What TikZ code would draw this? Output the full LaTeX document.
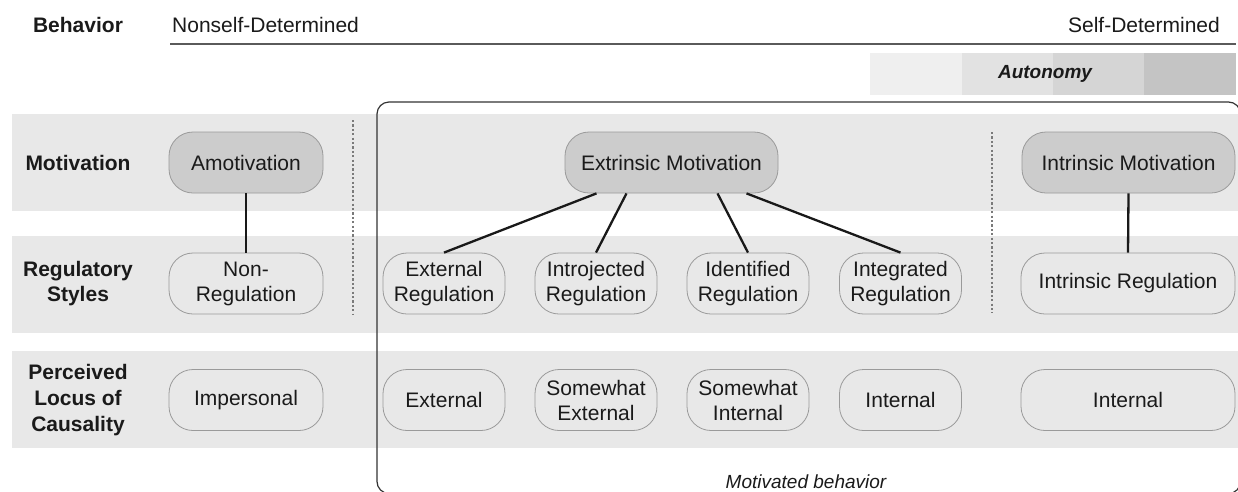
\documentclass[tikz,border=0pt]{standalone}
\usepackage{fontspec}
\setmainfont{Liberation Sans}
\usetikzlibrary{calc}
\definecolor{txt}{HTML}{1A1A1A}
\definecolor{bandgray}{HTML}{E8E8E8}
\definecolor{motfill}{HTML}{CCCCCC}
\definecolor{boxborder}{HTML}{9A9A9A}
\definecolor{auto1}{HTML}{EFEFEF}
\definecolor{auto2}{HTML}{E2E2E2}
\definecolor{auto3}{HTML}{D5D5D5}
\definecolor{auto4}{HTML}{C4C4C4}
\definecolor{frame}{HTML}{333333}
\definecolor{rule}{HTML}{5A5A5A}
\definecolor{sepgray}{HTML}{7A7A7A}
\begin{document}
\begin{tikzpicture}[x=1pt,y=-1pt,
  every node/.style={font=\fontsize{21}{25}\selectfont, text=txt, inner sep=0pt},
  band/.style={fill=bandgray, draw=none},
  motbox/.style={draw=boxborder, line width=0.8pt, fill=motfill, rounded corners=24pt,
    minimum height=61pt, align=center},
  regbox/.style={draw=boxborder, line width=0.8pt, fill=bandgray, rounded corners=24pt,
    minimum height=61pt, align=center},
  rowlabel/.style={font=\fontsize{21}{25}\selectfont\bfseries, align=center},
  link/.style={line width=2.3pt, draw=black!90},
  sepline/.style={draw=sepgray, line width=2pt, dash pattern=on 2.2pt off 2.2pt},
]
\useasboundingbox (0,0) rectangle (1238,491);
% bands
\fill[band] (12,114) rectangle (1238,211);
\fill[band] (12,236) rectangle (1238,333);
\fill[band] (12,351) rectangle (1238,448);
% autonomy bar
\fill[auto1] (870,53) rectangle (962,95);
\fill[auto2] (962,53) rectangle (1053,95);
\fill[auto3] (1053,53) rectangle (1144,95);
\fill[auto4] (1144,53) rectangle (1236,95);
\node[font=\fontsize{19}{22}\selectfont\bfseries\itshape] (auto) at (1045,74) {Autonomy};
% header
\node[rowlabel] (beh) at (78,25) {Behavior};
\node[anchor=west] (nsd) at (172,25) {Nonself-Determined};
\node[anchor=east] (sd) at (1220,25) {Self-Determined};
\draw[rule, line width=1.8pt] (170,44) -- (1236,44);
% motivated behaviour frame
\draw[frame, line width=1.2pt, rounded corners=12pt] (377,102) rectangle (1240.5,493.5);
\node[font=\fontsize{19}{22}\selectfont\itshape, anchor=base] (mb) at (806,488) {Motivated behavior};
% separators
\draw[sepline] (353,120) -- (353,315);
\draw[sepline] (992,132) -- (992,313);
% row labels
\node[rowlabel] (lmot) at (78,162.5) {Motivation};
\node[rowlabel] (lreg) at (78,283.5) {Regulatory\\Styles};
\node[rowlabel, font=\fontsize{21}{26}\selectfont\bfseries] (lloc) at (78,400) {Perceived\\Locus of\\Causality};
% row 1
\node[motbox, minimum width=154pt] (amot) at (246,162.5) {Amotivation};
\node[motbox, minimum width=213pt] (extm) at (671.5,162.5) {Extrinsic Motivation};
\node[motbox, minimum width=213pt] (intm) at (1128.5,162.5) {Intrinsic Motivation};
% row 2
\node[regbox, minimum width=154pt] (nonreg) at (246,283.5) {Non-\\Regulation};
\node[regbox, minimum width=122pt] (extreg) at (444,283.5) {External\\Regulation};
\node[regbox, minimum width=122pt] (introreg) at (596,283.5) {Introjected\\Regulation};
\node[regbox, minimum width=122pt] (identreg) at (748,283.5) {Identified\\Regulation};
\node[regbox, minimum width=122pt] (integreg) at (900.5,283.5) {Integrated\\Regulation};
\node[regbox, minimum width=214pt] (intreg) at (1128,283.5) {Intrinsic Regulation};
% row 3
\node[regbox, minimum width=154pt] (imp) at (246,400) {Impersonal};
\node[regbox, minimum width=122pt] (lext) at (444,400) {External};
\node[regbox, minimum width=122pt] (lsext) at (596,400) {Somewhat\\External};
\node[regbox, minimum width=122pt] (lsint) at (748,400) {Somewhat\\Internal};
\node[regbox, minimum width=122pt] (lint) at (900.5,400) {Internal};
\node[regbox, minimum width=214pt] (lint2) at (1128,400) {Internal};
% links
\draw[link] (amot.south) -- (nonreg.north);
\draw[link] ($(extm.south)+(-75,0)$) -- (extreg.north);
\draw[link] ($(extm.south)+(-45,0)$) -- (introreg.north);
\draw[link] ($(extm.south)+(46,0)$) -- (identreg.north);
\draw[link] ($(extm.south)+(75,0)$) -- (integreg.north);
\draw[link] (intm.south) -- (intreg.north);
\end{tikzpicture}
\end{document}
